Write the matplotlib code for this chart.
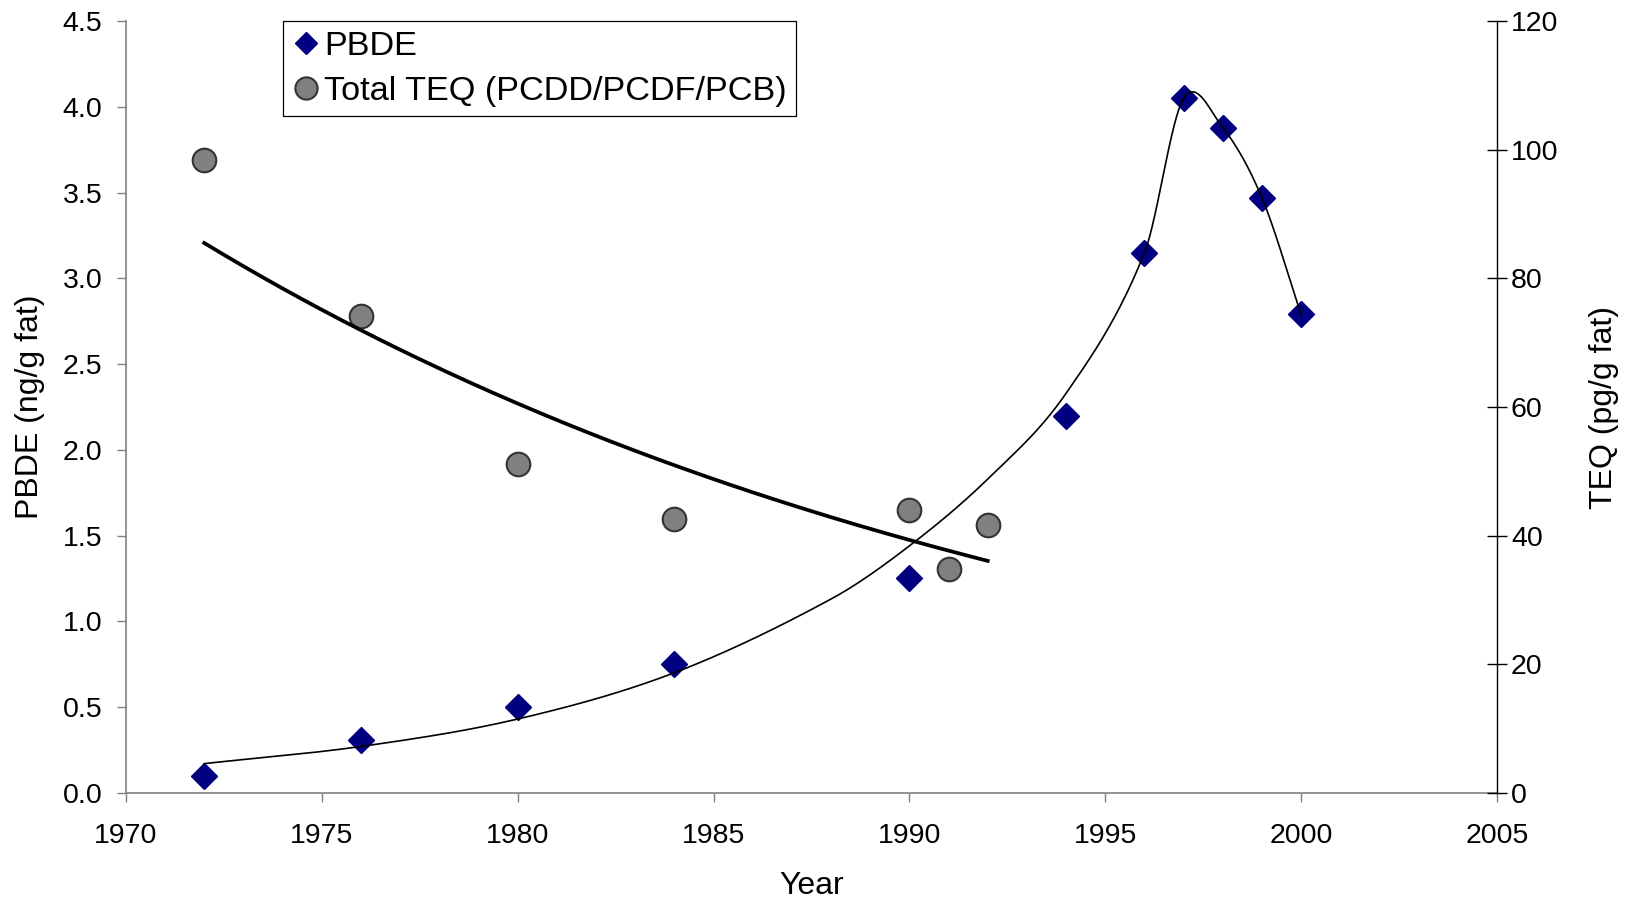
import numpy as np
import matplotlib
matplotlib.use("Agg")
import matplotlib.pyplot as plt
from matplotlib.lines import Line2D
from matplotlib.ticker import MultipleLocator, FormatStrFormatter

plt.rcParams['font.family'] = ['Liberation Sans', 'DejaVu Sans']

# PBDE, ng/g fat (left axis)
pbde_years = [1972, 1976, 1980, 1984, 1990, 1994, 1996, 1997, 1998, 1999, 2000]
pbde_vals = [0.10, 0.31, 0.50, 0.75, 1.25, 2.20, 3.15, 4.05, 3.88, 3.47, 2.79]

# PBDE trend curve as drawn in the original
curve_years = [1972, 1976, 1980, 1984, 1988, 1990, 1992, 1994, 1996, 1997, 1998, 1999, 2000]
curve_vals = [0.17, 0.27, 0.43, 0.70, 1.13, 1.44, 1.83, 2.33, 3.15, 4.05, 3.88, 3.47, 2.79]

# Total TEQ (PCDD/PCDF/PCB), pg/g fat (right axis)
teq_years = [1972, 1976, 1980, 1984, 1990, 1991, 1992]
teq_vals = [98.5, 74.2, 51.1, 42.6, 44.0, 34.8, 41.6]

x_ticks = list(range(1970, 2006, 5))


def smooth_curve(xs, ys, n=40):
    """Smoothed line through the points (cubic Hermite, Catmull-Rom slopes)."""
    xs = np.asarray(xs, float)
    ys = np.asarray(ys, float)
    m = np.empty_like(ys)
    m[1:-1] = (ys[2:] - ys[:-2]) / (xs[2:] - xs[:-2])
    m[0] = (ys[1] - ys[0]) / (xs[1] - xs[0])
    m[-1] = (ys[-1] - ys[-2]) / (xs[-1] - xs[-2])
    t = np.linspace(0, 1, n)
    h00 = 2 * t**3 - 3 * t**2 + 1
    h10 = t**3 - 2 * t**2 + t
    h01 = -2 * t**3 + 3 * t**2
    h11 = t**3 - t**2
    ox, oy = [], []
    for i in range(len(xs) - 1):
        h = xs[i + 1] - xs[i]
        ox.append(xs[i] + t * h)
        oy.append(h00 * ys[i] + h10 * h * m[i] + h01 * ys[i + 1] + h11 * h * m[i + 1])
    return np.concatenate(ox), np.concatenate(oy)


fig = plt.figure(figsize=(16.27, 8.99), dpi=100)
ax = fig.add_axes([0.0774, 0.1182, 0.8427, 0.8581])
ax2 = ax.twinx()

# PBDE markers + smoothed curve
ax.plot(pbde_years, pbde_vals, ls='none', marker='D', ms=13,
        color='#000080', mec='#000080', zorder=3)
cx, cy = smooth_curve(curve_years, curve_vals)
ax.plot(cx, cy, color='black', lw=1.2, zorder=4)

# TEQ markers + exponential trendline
ax2.plot(teq_years, teq_vals, ls='none', marker='o', ms=17,
         mfc='#808080', mec='#333333', mew=1.5, zorder=3)
b, a = np.polyfit(teq_years, np.log(teq_vals), 1)
tx = np.linspace(min(teq_years), max(teq_years), 200)
ax2.plot(tx, np.exp(a + b * tx), color='black', lw=2.7, zorder=4)

ax.set_xlim(1970, 2005)
ax.set_ylim(0, 4.5)
ax2.set_ylim(0, 120)
ax.set_xticks(x_ticks)
ax.yaxis.set_major_locator(MultipleLocator(0.5))
ax.yaxis.set_major_formatter(FormatStrFormatter('%.1f'))
ax2.yaxis.set_major_locator(MultipleLocator(20))

for s in ['top', 'right']:
    ax.spines[s].set_visible(False)
for s in ['top', 'left', 'bottom']:
    ax2.spines[s].set_visible(False)
ax.spines['left'].set_color('#808080')
ax.spines['bottom'].set_color('#808080')
ax.spines['left'].set_linewidth(1.2)
ax.spines['bottom'].set_linewidth(1.2)
ax2.spines['right'].set_color('black')
ax2.spines['right'].set_linewidth(1.0)

ax.tick_params(axis='y', direction='out', length=6.5, width=1, color='#808080',
               labelsize=20.5, pad=10.5)
ax.tick_params(axis='x', direction='out', length=6.5, width=1, color='#808080',
               labelsize=20.5, pad=15)
ax2.tick_params(axis='y', direction='inout', length=14, width=1, color='black',
                labelsize=20.5, pad=3)

ax.set_xlabel('Year', fontsize=23, labelpad=16)
ax.set_ylabel('PBDE (ng/g fat)', fontsize=23, labelpad=13)
ax2.set_ylabel('TEQ (pg/g fat)', fontsize=23, labelpad=22, rotation=90)

handles = [
    Line2D([], [], ls='none', marker='D', ms=11.5, color='#000080'),
    Line2D([], [], ls='none', marker='o', ms=16, mfc='#808080',
           mec='#333333', mew=1.5),
]
leg = ax2.legend(handles, ['PBDE', 'Total TEQ (PCDD/PCDF/PCB)'],
                 loc='upper left', bbox_to_anchor=(0.1145, 1.0),
                 borderaxespad=0, frameon=True, fancybox=False,
                 edgecolor='black', framealpha=1, fontsize=24.7,
                 handlelength=0.8, handletextpad=0.12, borderpad=0.28,
                 labelspacing=0.4)
leg.get_frame().set_linewidth(0.9)

fig.savefig('out.png', dpi=100)
